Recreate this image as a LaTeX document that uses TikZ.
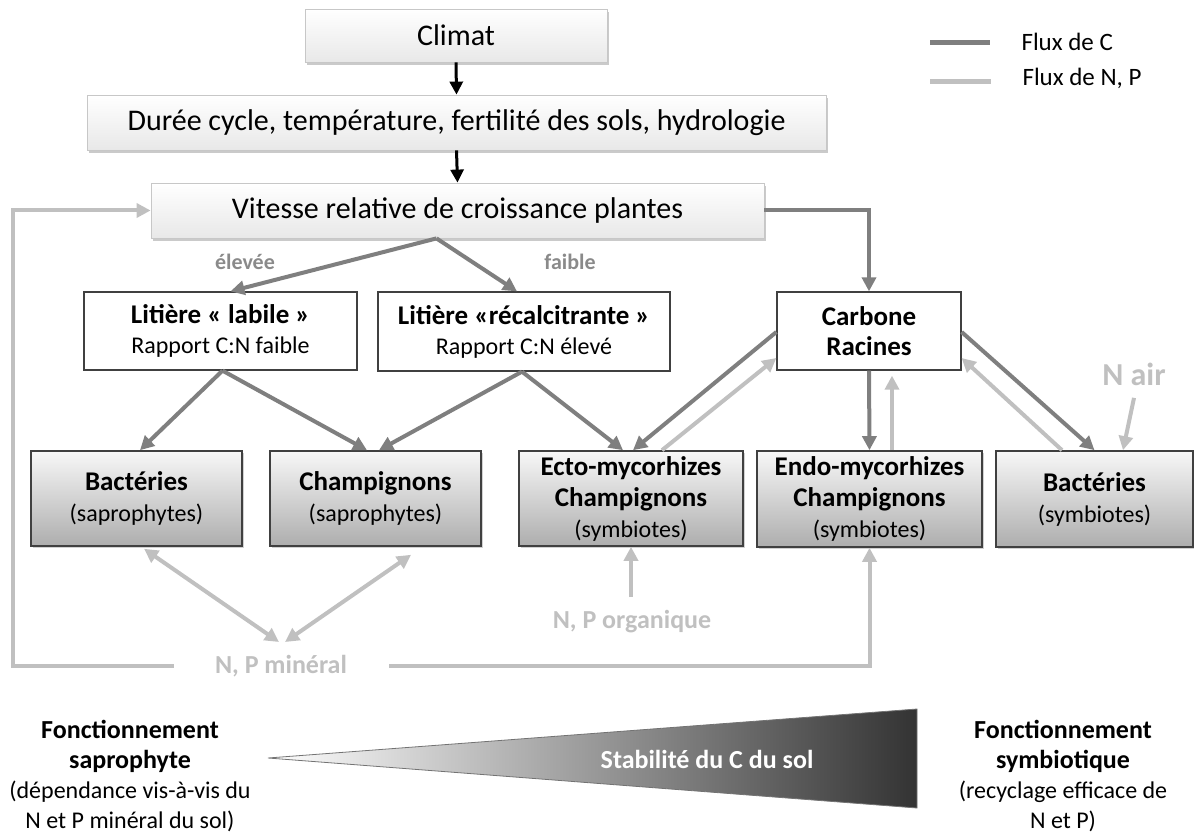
\documentclass[tikz,border=0pt]{standalone}
\usepackage{fontspec}
\setmainfont{Carlito}
\usetikzlibrary{arrows.meta,calc,shadows}
\definecolor{cgray}{HTML}{7F7F7F}
\definecolor{ngray}{HTML}{C0C0C0}
\definecolor{lgray}{HTML}{8A8A8A}
\definecolor{bdark}{HTML}{404040}
\tikzset{
  topbox/.style={draw=black!22, line width=0.8pt, top color=white, bottom color=black!9,
    inner sep=0pt, font=\fontsize{30}{36}\selectfont,
    drop shadow={shadow xshift=2pt, shadow yshift=-3pt, opacity=0.35, fill=black!60}},
  litbox/.style={draw=bdark, line width=1.3pt, fill=white, align=center, inner sep=0pt,
    font=\fontsize{24}{30}\selectfont},
  micbox/.style={draw=bdark, line width=1.6pt, top color=black!3, bottom color=black!32,
    align=center, inner sep=0pt, font=\fontsize{24}{31}\selectfont,
    drop shadow={shadow xshift=1.5pt, shadow yshift=-2pt, opacity=0.3, fill=black!60}},
  cflux/.style={draw=cgray, line width=4pt, -{Triangle[length=14pt,width=14pt]}},
  nflux/.style={draw=ngray, line width=4pt, -{Triangle[length=14pt,width=14pt]}},
  nboth/.style={draw=ngray, line width=4pt, {Triangle[length=14pt,width=14pt]}-{Triangle[length=14pt,width=14pt]}},
  nline/.style={draw=ngray, line width=4pt},
  kflux/.style={draw=black, line width=3pt, -{Triangle[length=13pt,width=13pt]}},
  glab/.style={text=lgray, font=\fontsize{22}{26}\selectfont\bfseries},
  nlab/.style={text=ngray, font=\fontsize{26}{30}\selectfont\bfseries},
  side/.style={align=center, font=\fontsize{24}{30}\selectfont},
}
\newcommand{\bldtx}[1]{{\fontsize{26}{30}\selectfont\bfseries #1}}
\newcommand{\ttltx}[1]{{\fontsize{27}{30}\selectfont\bfseries #1}}
\begin{document}
\begin{tikzpicture}[x=1pt,y=-1pt]
\useasboundingbox (0,0) rectangle (1194,834);

% top boxes
\node[topbox, minimum width=302pt, minimum height=53pt] (clim) at (456,35.5) {Climat};
\node[topbox, minimum width=739pt, minimum height=55pt] (dur) at (456.5,122.5) {Durée cycle, température, fertilité des sols, hydrologie};
\node[topbox, minimum width=613pt, minimum height=55pt] (vit) at (457.5,210.5) {Vitesse relative de croissance plantes};

% litter / carbon boxes
\node[litbox, minimum width=273pt, minimum height=78pt] (lab) at (220.5,331) {\ttltx{Litière « labile »}\\Rapport C:N faible};
\node[litbox, minimum width=292pt, minimum height=79pt] (rec) at (524,331.5) {\ttltx{Litière «récalcitrante »}\\Rapport C:N élevé};
\node[litbox, minimum width=184pt, minimum height=78pt] (carb) at (869,331) {\ttltx{Carbone}\\\ttltx{Racines}};

% microbe boxes
\node[micbox, minimum width=211pt, minimum height=95pt] (bs) at (136.5,498.5) {\ttltx{Bactéries}\\(saprophytes)};
\node[micbox, minimum width=211pt, minimum height=95pt] (cs) at (375.5,498.5) {\ttltx{Champignons}\\(saprophytes)};
\node[micbox, minimum width=224pt, minimum height=95pt] (ecto) at (631,498.5) {\ttltx{Ecto-mycorhizes}\\\ttltx{Champignons}\\(symbiotes)};
\node[micbox, minimum width=225pt, minimum height=96pt] (endo) at (869.5,499) {\ttltx{Endo-mycorhizes}\\\ttltx{Champignons}\\(symbiotes)};
\node[micbox, minimum width=197pt, minimum height=96pt] (bsym) at (1094.5,499) {\ttltx{Bactéries}\\(symbiotes)};

% labels
\node[glab] (elev) at (245,262) {élevée};
\node[glab] (faib) at (570,262) {faible};
\node[nlab, font=\fontsize{32}{36}\selectfont\bfseries] (nair) at (1134,374) {N air};
\node[nlab] (org) at (632,622) {N, P organique};
\node[nlab] (min) at (281,666) {N, P minéral};

% legend
\coordinate (lc1) at (930,43);
\coordinate (lc2) at (990,43);
\coordinate (ln1) at (930,82);
\coordinate (ln2) at (991,82);
\draw[cgray, line width=5pt] (lc1) -- (lc2);
\draw[ngray, line width=5pt] (ln1) -- (ln2);
\node[anchor=west, font=\fontsize{25}{30}\selectfont] (legc) at (1018,42) {Flux de C};
\node[anchor=west, font=\fontsize{25}{30}\selectfont] (legn) at (1019,78) {Flux de N, P};

% black arrows
\draw[kflux] (clim.south) -- (dur.north);
\draw[kflux] (dur.south) -- (vit.north);

% carbon fluxes
\draw[cflux] ($(vit.south)+(-21,0)$) -- ($(lab.north)+(10,0)$);
\draw[cflux] ($(vit.south)+(-21,0)$) -- ($(rec.north)+(-7,0)$);
\draw[cflux] (vit.east) -| (carb.north);
\draw[cflux] ($(lab.south)+(2,0)$) -- ($(bs.north)+(3.5,0)$);
\draw[cflux] ($(lab.south)+(2,0)$) -- ($(cs.north)+(-8.5,0)$);
\draw[cflux] ($(rec.south)+(-2,0)$) -- ($(cs.north)+(3.5,0)$);
\draw[cflux] ($(rec.south)+(-2,0)$) -- ($(ecto.north)+(-8,0)$);
\draw[cflux] ($(carb.west)+(0,1)$) -- ($(ecto.north)+(2,0)$);
\draw[cflux] (carb.south) -- (endo.north);
\draw[cflux] ($(carb.east)+(0,1)$) -- ($(bsym.north)+(0,0)$);

% N,P fluxes
\draw[nflux] ($(ecto.north)+(31,0)$) -- ($(carb.west)+(0,27)$);
\draw[nflux] ($(endo.north)+(22.5,0)$) -- ($(carb.south)+(23,5)$);
\draw[nflux] ($(bsym.north)+(-32.5,0)$) -- ($(carb.east)+(0,27)$);
\draw[nflux] ($(nair.south)+(0,9)$) -- ($(bsym.north)+(28.5,0)$);
\draw[nflux] ($(org.center)+(-1,-25)$) -- (ecto.south);
\draw[nboth] ($(bs.south)+(7.5,2)$) -- ($(min.center)+(-2,-24)$);
\draw[nboth] ($(cs.south)+(35.5,8)$) -- ($(min.center)+(4,-24)$);
\coordinate (fbl) at (13,666);
\draw[nline, -{Triangle[length=14pt,width=14pt]}] ($(min.west)+(-38,0)$) -- (fbl) |- (vit.west);
\draw[nline, -{Triangle[length=14pt,width=14pt]}] ($(min.east)+(39,0)$) -| (endo.south);

% stability wedge
\coordinate (wt) at (268,758);
\coordinate (wa) at (917,709);
\coordinate (wb) at (917,808);
\shade[left color=white, right color=black!80, draw=black!55, line width=0.8pt] (wt) -- (wa) -- (wb) -- cycle;
\node[text=white, font=\fontsize{26}{30}\selectfont\bfseries] (stab) at (707,759) {Stabilité du C du sol};

% side texts
\node[side] (sapro) at (130,776) {\bldtx{Fonctionnement}\\\bldtx{saprophyte}\\(dépendance vis-à-vis du\\N et P minéral du sol)};
\node[side] (symb) at (1063,776) {\bldtx{Fonctionnement}\\\bldtx{symbiotique}\\(recyclage efficace de\\N et P)};
\end{tikzpicture}
\end{document}
